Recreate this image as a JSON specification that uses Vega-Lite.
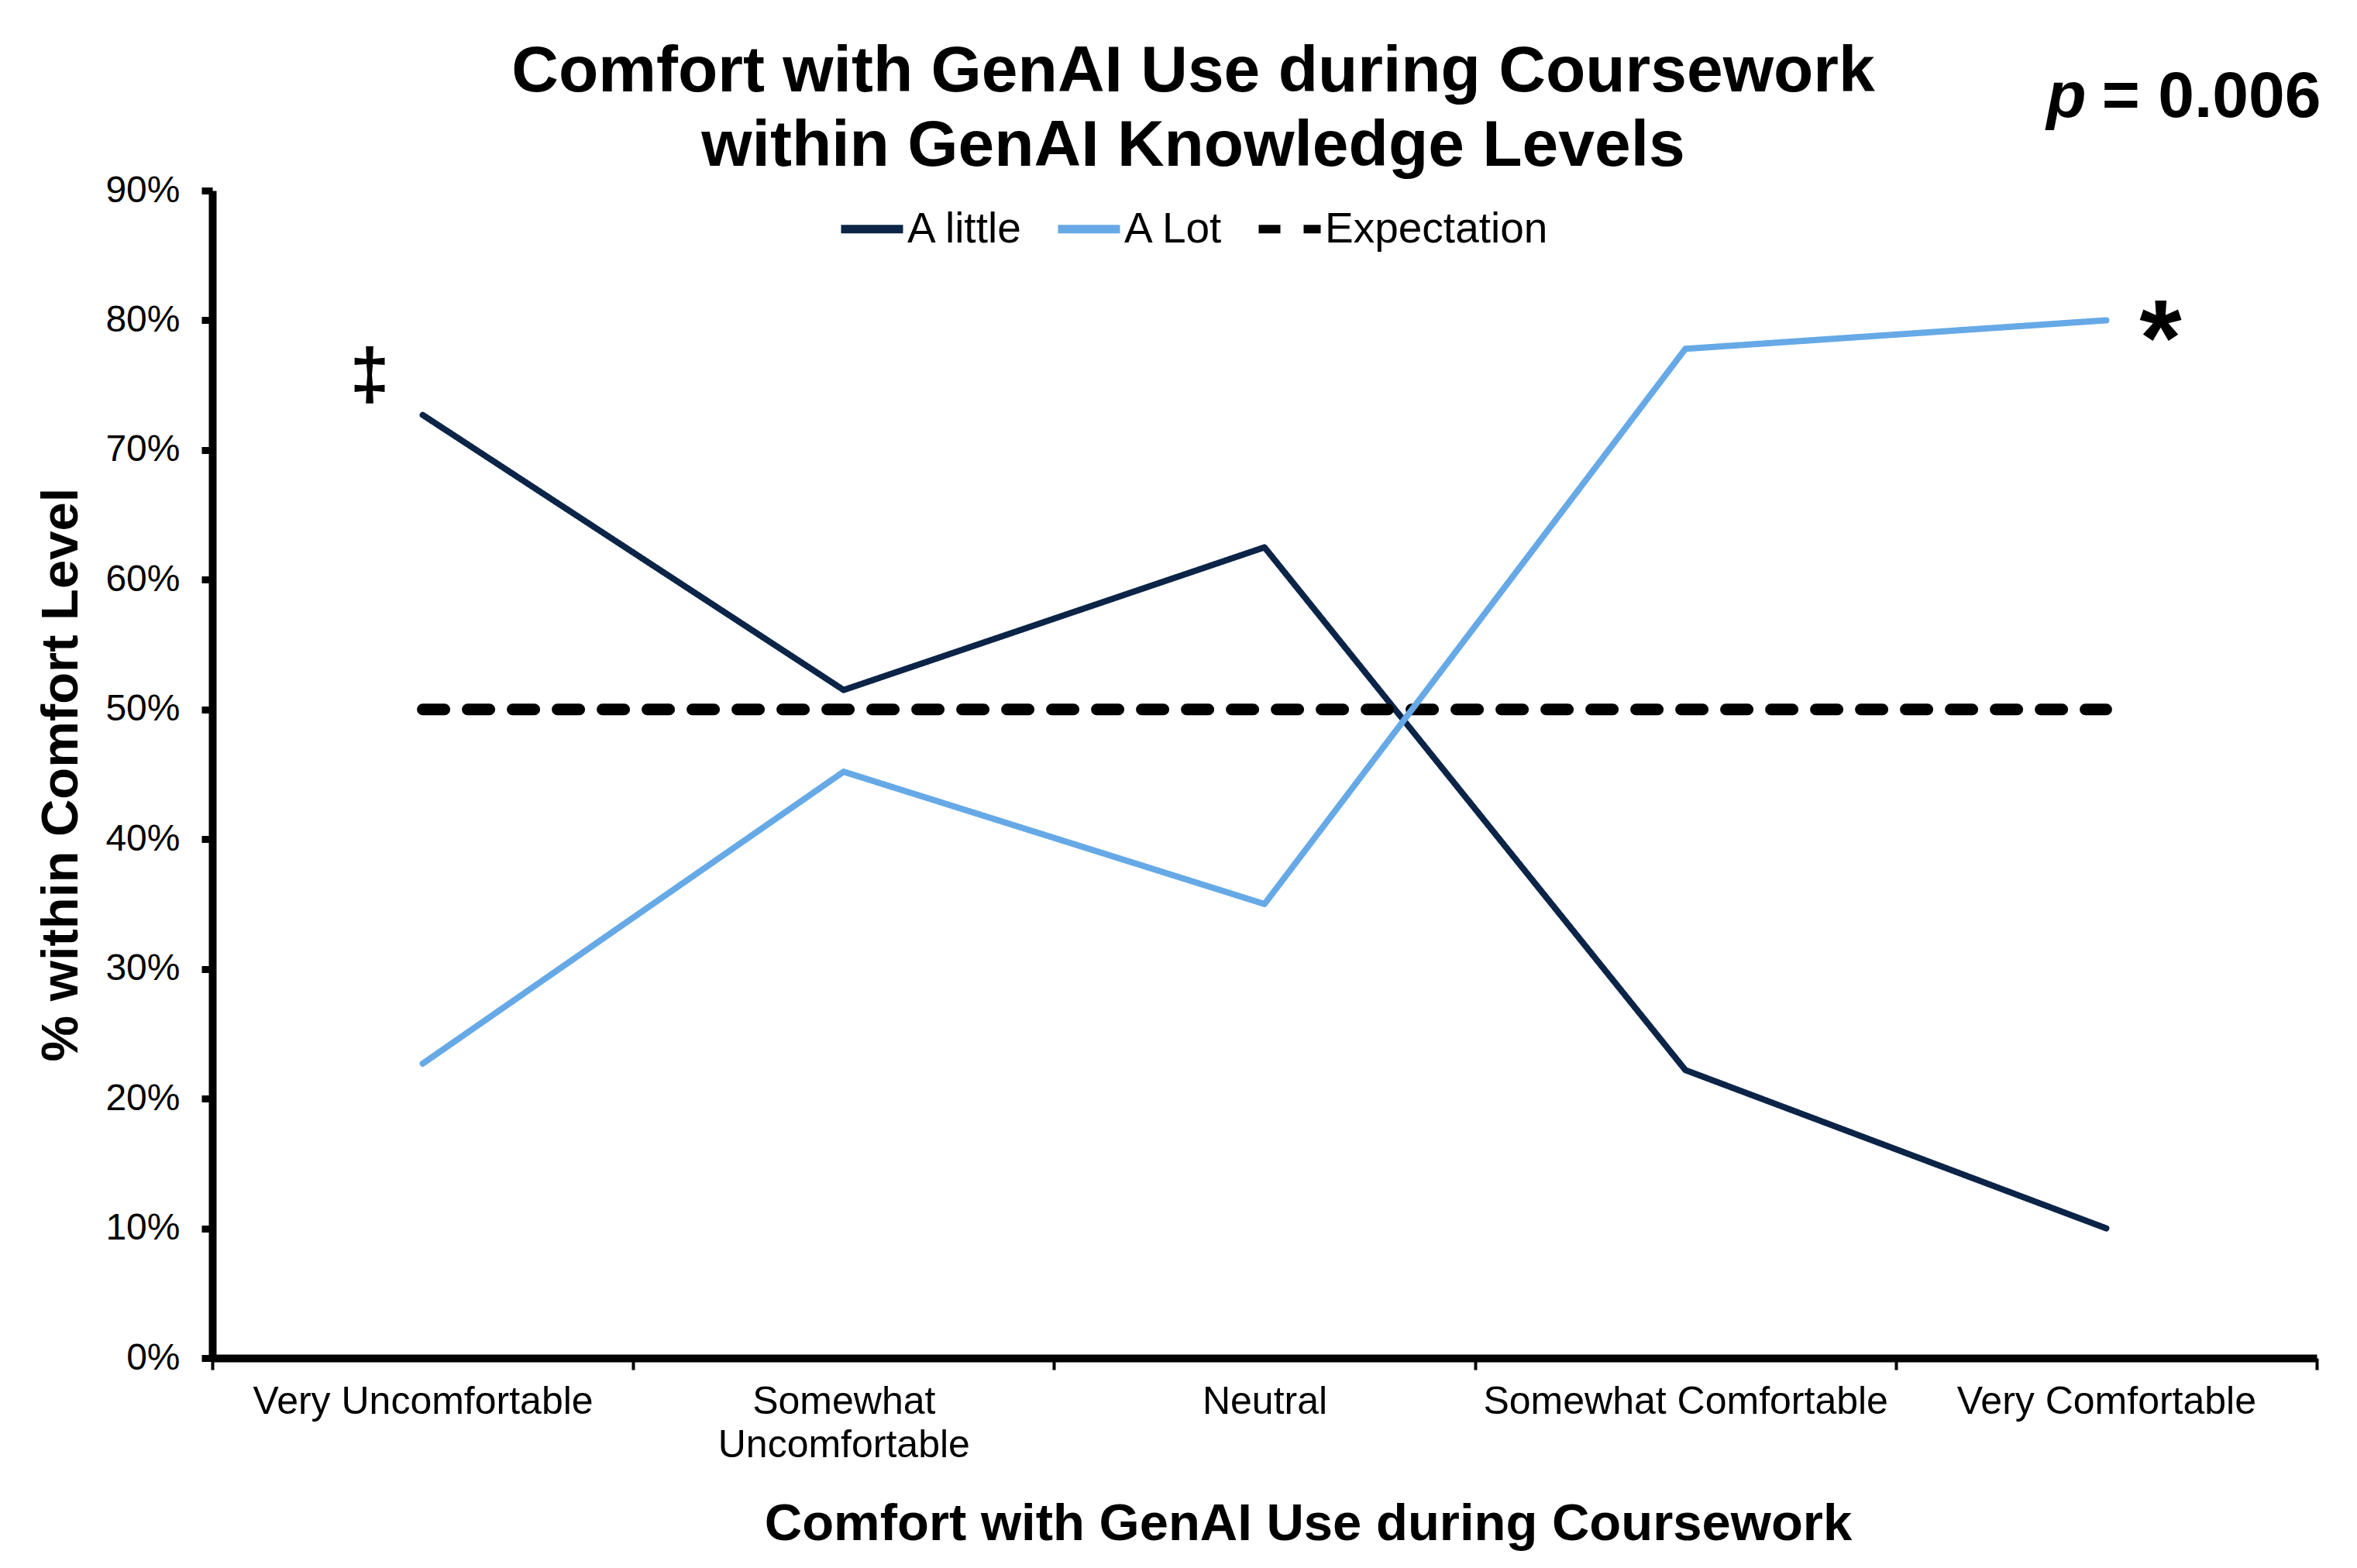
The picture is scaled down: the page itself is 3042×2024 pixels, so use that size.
{
  "$schema": "https://vega.github.io/schema/vega-lite/v6.json",
  "width": 2716,
  "height": 1507,
  "autosize": {"type": "none"},
  "padding": {"left": 274, "top": 246, "right": 52, "bottom": 271},
  "background": "white",
  "config": {
    "font": "Liberation Sans",
    "view": {"stroke": null},
    "axis": {"grid": false, "labelColor": "black", "titleColor": "black", "domainColor": "black", "tickColor": "black"}
  },
  "title": {
    "text": ["Comfort with GenAI Use during Coursework", "within GenAI Knowledge Levels"],
    "fontSize": 84,
    "fontWeight": "bold",
    "font": "Liberation Sans",
    "color": "black",
    "anchor": "middle",
    "dx": -92,
    "dy": 162,
    "offset": 14,
    "lineHeight": 96
  },
  "data": {
    "values": [
      {"cat": "Very Uncomfortable", "series": "A little", "pct": 0.727},
      {"cat": "Somewhat Uncomfortable", "series": "A little", "pct": 0.515},
      {"cat": "Neutral", "series": "A little", "pct": 0.625},
      {"cat": "Somewhat Comfortable", "series": "A little", "pct": 0.222},
      {"cat": "Very Comfortable", "series": "A little", "pct": 0.100},
      {"cat": "Very Uncomfortable", "series": "A Lot", "pct": 0.227},
      {"cat": "Somewhat Uncomfortable", "series": "A Lot", "pct": 0.452},
      {"cat": "Neutral", "series": "A Lot", "pct": 0.350},
      {"cat": "Somewhat Comfortable", "series": "A Lot", "pct": 0.778},
      {"cat": "Very Comfortable", "series": "A Lot", "pct": 0.800},
      {"cat": "Very Uncomfortable", "series": "Expectation", "pct": 0.5},
      {"cat": "Somewhat Uncomfortable", "series": "Expectation", "pct": 0.5},
      {"cat": "Neutral", "series": "Expectation", "pct": 0.5},
      {"cat": "Somewhat Comfortable", "series": "Expectation", "pct": 0.5},
      {"cat": "Very Comfortable", "series": "Expectation", "pct": 0.5}
    ]
  },
  "encoding": {
    "x": {
      "field": "cat",
      "type": "nominal",
      "sort": ["Very Uncomfortable", "Somewhat Uncomfortable", "Neutral", "Somewhat Comfortable", "Very Comfortable"],
      "scale": {"paddingInner": 0, "paddingOuter": 0},
      "axis": {
        "title": "Comfort with GenAI Use during Coursework",
        "titleFontSize": 67,
        "titleFontWeight": "bold",
        "titlePadding": 44,
        "titleX": 1414,
        "labelFontSize": 50,
        "labelAngle": 0,
        "labelPadding": 16,
        "labelBaseline": "top",
        "labelLineHeight": 56,
        "labelLimit": 900,
        "labelExpr": "datum.value == 'Somewhat Uncomfortable' ? ['Somewhat', 'Uncomfortable'] : datum.value",
        "tickBand": "extent",
        "tickWidth": 4,
        "tickSize": 15,
        "domainWidth": 10
      }
    },
    "y": {
      "field": "pct",
      "type": "quantitative",
      "scale": {"domain": [0, 0.9], "nice": false},
      "axis": {
        "title": "% within Comfort Level",
        "titleFontSize": 67,
        "titleFontWeight": "bold",
        "titlePadding": 22,
        "values": [0, 0.1, 0.2, 0.3, 0.4, 0.5, 0.6, 0.7, 0.8, 0.9],
        "format": ".0%",
        "labelFontSize": 48,
        "labelPadding": 28,
        "tickWidth": 9,
        "tickSize": 14,
        "domainWidth": 10
      }
    },
    "color": {
      "field": "series",
      "type": "nominal",
      "scale": {"domain": ["A little", "A Lot", "Expectation"], "range": ["#0B2447", "#66A9E6", "#000000"]},
      "legend": {
        "title": null,
        "orient": "none",
        "direction": "horizontal",
        "legendX": 806,
        "legendY": 4,
        "symbolType": "stroke",
        "symbolSize": 6400,
        "symbolStrokeWidth": 11,
        "labelFontSize": 55,
        "labelColor": "black",
        "labelOffset": 0,
        "columnPadding": 22,
        "labelLimit": 600
      }
    },
    "strokeDash": {
      "field": "series",
      "type": "nominal",
      "scale": {"domain": ["A little", "A Lot", "Expectation"], "range": [[1, 0], [1, 0], [28, 30]]}
    }
  },
  "layer": [
    {"transform": [{"filter": "datum.series == 'A little'"}], "mark": {"type": "line", "strokeWidth": 8, "strokeCap": "round", "strokeJoin": "round"}},
    {"transform": [{"filter": "datum.series == 'Expectation'"}], "mark": {"type": "line", "strokeWidth": 15, "strokeCap": "round", "strokeJoin": "round"}},
    {"transform": [{"filter": "datum.series == 'A Lot'"}], "mark": {"type": "line", "strokeWidth": 8, "strokeCap": "round", "strokeJoin": "round"}},
    {
      "data": {"values": [{"cat": "Very Uncomfortable", "pct": 0.74, "label": "‡"}]},
      "mark": {"type": "text", "fontSize": 92, "fontWeight": "bold", "align": "center", "baseline": "alphabetic", "color": "black"},
      "encoding": {
        "x": {"field": "cat", "type": "nominal", "bandPosition": 0.374},
        "y": {"field": "pct", "type": "quantitative"},
        "text": {"field": "label"},
        "color": null, "strokeDash": null
      }
    },
    {
      "data": {"values": [{"cat": "Very Comfortable", "pct": 0.758, "label": "*"}]},
      "mark": {"type": "text", "fontSize": 140, "fontWeight": "bold", "align": "center", "baseline": "alphabetic", "color": "black"},
      "encoding": {
        "x": {"field": "cat", "type": "nominal", "bandPosition": 0.629},
        "y": {"field": "pct", "type": "quantitative"},
        "text": {"field": "label"},
        "color": null, "strokeDash": null
      }
    },
    {
      "data": {"values": [{"cat": "Very Comfortable", "pct": 0.957, "label": "= 0.006"}]},
      "mark": {"type": "text", "fontSize": 84, "fontWeight": "bold", "align": "right", "baseline": "alphabetic", "color": "black", "clip": false},
      "encoding": {
        "x": {"field": "cat", "type": "nominal", "bandPosition": 1.01},
        "y": {"field": "pct", "type": "quantitative"},
        "text": {"field": "label"},
        "color": null, "strokeDash": null
      }
    },
    {
      "data": {"values": [{"cat": "Very Comfortable", "pct": 0.957, "label": "p"}]},
      "mark": {"type": "text", "fontSize": 84, "fontWeight": "bold", "fontStyle": "italic", "align": "left", "baseline": "alphabetic", "color": "black", "clip": false},
      "encoding": {
        "x": {"field": "cat", "type": "nominal", "bandPosition": 0.358},
        "y": {"field": "pct", "type": "quantitative"},
        "text": {"field": "label"},
        "color": null, "strokeDash": null
      }
    }
  ]
}
